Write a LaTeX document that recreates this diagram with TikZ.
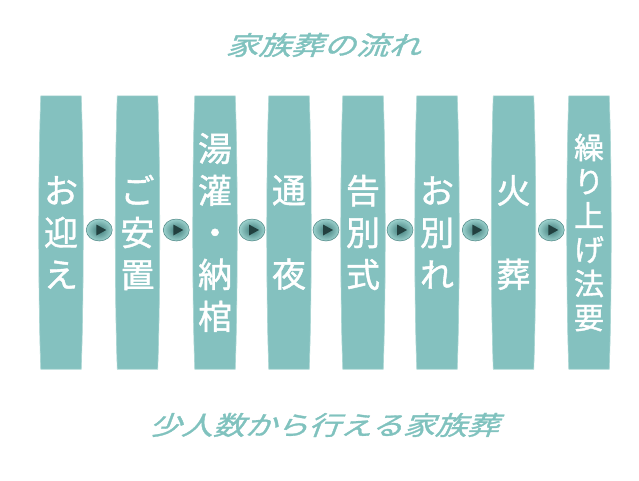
\documentclass[tikz,border=0pt]{standalone}
\usepackage{fontspec}
\usepackage{tikz}
\usepackage{xcolor}
\usetikzlibrary{calc, backgrounds, shapes.geometric}
\newfontfamily\cjk[FakeBold=1.2]{Noto Sans CJK JP}
\definecolor{barcolor}{HTML}{84C1BF}
\definecolor{rimcolor}{HTML}{A9D6D3}
\definecolor{titlecolor}{HTML}{80C2BE}
\definecolor{btninner}{HTML}{3E7A78}
\definecolor{btnouter}{HTML}{9CD2CE}
\definecolor{btnedge}{HTML}{4C8482}
\definecolor{btntri}{HTML}{22403F}

\tikzset{
    stage/.style = {rectangle, minimum width = 43pt, minimum height = 273pt, inner sep = 0pt,
        text = white, align = center, font = \cjk\fontsize{34}{42}\selectfont},
    smallstage/.style = {stage, font = \cjk\fontsize{30}{34}\selectfont},
    button/.style = {ellipse, minimum width = 26pt, minimum height = 22pt, inner sep = 0pt,
        shading = radial, inner color = btninner, outer color = btnouter, draw = btnedge, line width = 0.5pt,
        path picture = {\fill [btntri] ([xshift = -3pt, yshift = 5.5pt]path picture bounding box.center)
            -- ++(10pt, -5.5pt) -- ++(-10pt, -5.5pt) -- cycle;}},
    heading/.style = {text = titlecolor, xscale = 1.25, xslant = 0.3, font = \cjk\fontsize{26}{30}\selectfont}
}

% barrel shaped fill behind a stage node
\newcommand{\barrel}[1]{%
    \fill [barcolor, draw = rimcolor, line width = 0.6pt]
        ([xshift = 1.5pt]#1.north west) .. controls ([xshift = -1.2pt, yshift = -70pt]#1.north west) and ([xshift = -1.2pt, yshift = 70pt]#1.south west) .. ([xshift = 1.5pt]#1.south west)
        -- ([xshift = -1.5pt]#1.south east) .. controls ([xshift = 1.2pt, yshift = 70pt]#1.south east) and ([xshift = 1.2pt, yshift = -70pt]#1.north east) .. ([xshift = -1.5pt]#1.north east)
        -- cycle;}

\begin{document}
\begin{tikzpicture}

        \useasboundingbox (0pt, 0pt) rectangle (639pt, -480pt);

        \node [heading] (title) at (327pt, -45pt) {家族葬の流れ};

        \node [stage] (s1) at (61pt, -232.5pt) {お\\迎\\え};
        \node [stage] (s2) at (137.5pt, -232.5pt) {ご\\安\\置};
        \node [stage] (s3) at (215pt, -232.5pt) {湯\\灌\\・\\納\\棺};
        \node [stage] (s4) at (289pt, -232.5pt) {通\\ \\夜};
        \node [stage] (s5) at (363pt, -232.5pt) {告\\別\\式};
        \node [stage] (s6) at (437pt, -232.5pt) {お\\別\\れ};
        \node [stage] (s7) at (513.5pt, -232.5pt) {火\\ \\葬};
        \node [smallstage] (s8) at (589pt, -232.5pt) {繰\\り\\上\\げ\\法\\要};

        % Bars
        \begin{scope}[on background layer]
            \barrel{s1} \barrel{s2} \barrel{s3} \barrel{s4}
            \barrel{s5} \barrel{s6} \barrel{s7} \barrel{s8}
        \end{scope}

        % Buttons
        \node [button] (b1) at ([yshift = 2.5pt]$(s1.east)!0.5!(s2.west)$) {};
        \node [button] (b2) at ([yshift = 2.5pt]$(s2.east)!0.5!(s3.west)$) {};
        \node [button] (b3) at ([yshift = 2.5pt]$(s3.east)!0.5!(s4.west)$) {};
        \node [button] (b4) at ([yshift = 2.5pt]$(s4.east)!0.5!(s5.west)$) {};
        \node [button] (b5) at ([yshift = 2.5pt]$(s5.east)!0.5!(s6.west)$) {};
        \node [button] (b6) at ([yshift = 2.5pt]$(s6.east)!0.5!(s7.west)$) {};
        \node [button] (b7) at ([yshift = 2.5pt]$(s7.east)!0.5!(s8.west)$) {};

        \node [heading, xscale = 0.98] (motto) at (327.5pt, -425pt) {少人数から行える家族葬};

\end{tikzpicture}
\end{document}
